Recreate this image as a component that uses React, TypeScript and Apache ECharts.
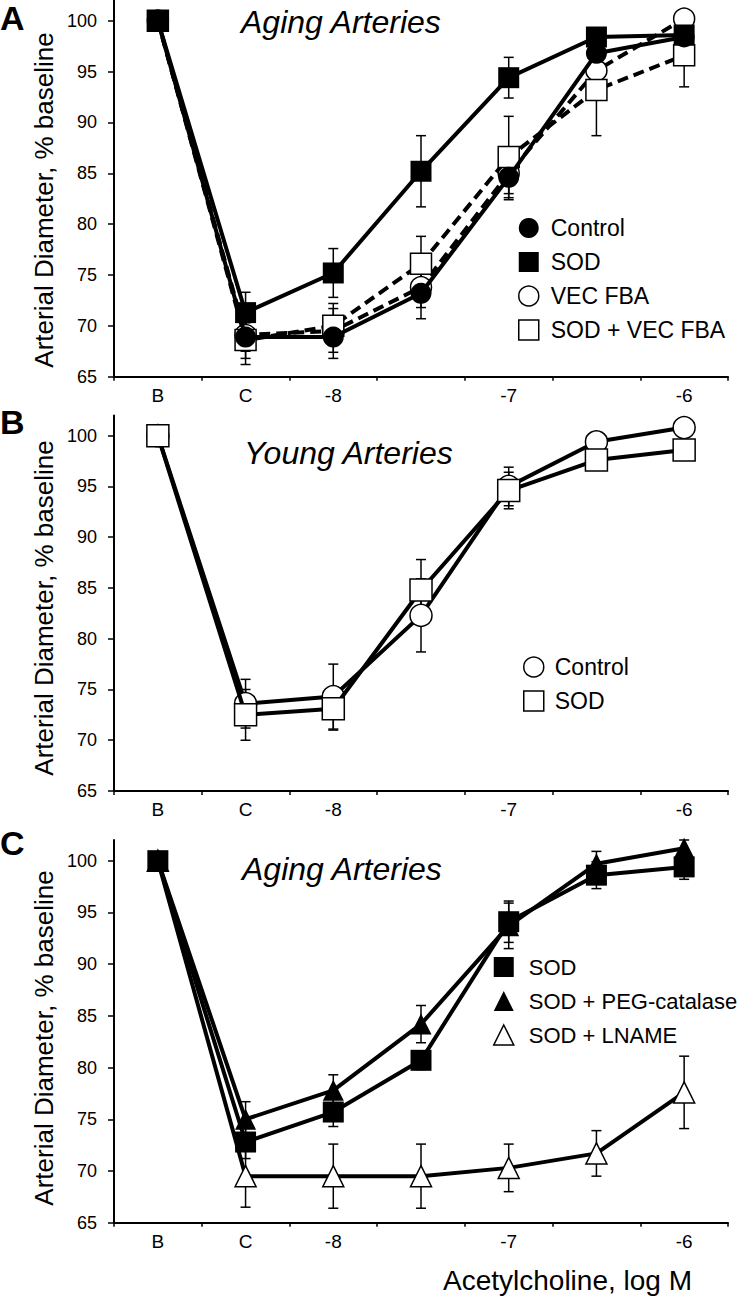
import React, { useEffect, useRef } from 'react';
import * as echarts from 'echarts';

const FONT = 'Liberation Sans, Arial, Helvetica, sans-serif';

// Categories (x axis) and tick labels
const categories = ['B', 'C', '-8', '-7.5', '-7', '-6.5', '-6'];
const shownLabels = ['B', 'C', '-8', '-7', '-6'];
const yTicks = [65, 70, 75, 80, 85, 90, 95, 100];

// Panel A – Aging Arteries
const aControl = [100, 68.9, 68.9, 73.2, 84.6, 96.8, 98.4];
const aControlErr = [0, 1.4, 1.5, 2.5, 2.2, 1.0, 0.8];
const aSod = [100, 71.3, 75.2, 85.2, 94.4, 98.4, 98.6];
const aSodErr = [0, 2.0, 2.4, 3.5, 2.0, 0.8, 0.8];
const aVec = [100, 69.1, 69.5, 73.8, 85.0, 95.1, 100.2];
const aVecErr = [0, 2.9, 2.7, 2.0, 2.0, 1.5, 0.8];
const aSodVec = [100, 68.6, 70.0, 76.1, 86.6, 93.2, 96.6];
const aSodVecErr = [0, 1.8, 1.7, 2.7, 4.0, 4.5, 3.1];

// Panel B – Young Arteries
const bControl = [100, 73.6, 74.3, 82.3, 95.0, 99.4, 100.8];
const bControlErr = [0, 2.4, 3.2, 3.6, 1.9, 0.8, 0.8];
const bSod = [100, 72.5, 73.1, 84.8, 94.6, 97.6, 98.6];
const bSodErr = [0, 2.5, 2.1, 3.0, 1.8, 0.8, 0.8];

// Panel C – Aging Arteries
const cSod = [100, 72.8, 75.7, 80.7, 94.1, 98.6, 99.4];
const cSodErr = [0, 1.6, 1.4, 0.9, 2.0, 1.3, 1.2];
const cPeg = [100, 75.0, 77.8, 84.2, 93.7, 99.7, 101.2];
const cPegErr = [0, 1.7, 1.5, 1.8, 2.2, 1.2, 0.8];
const cLname = [100, 69.5, 69.5, 69.5, 70.3, 71.7, 77.6];
const cLnameErr = [0, 3.0, 3.1, 3.1, 2.3, 2.2, 3.5];

const grids = [
  { left: 114, top: 0.4, width: 614, height: 376.3 },
  { left: 114, top: 415.4, width: 614, height: 375.6 },
  { left: 114, top: 840, width: 614, height: 382.7 },
];

function errRender(params: any, api: any) {
  const x = api.value(0);
  const lo = api.coord([x, api.value(1)]);
  const hi = api.coord([x, api.value(2)]);
  const w = 5;
  const style = { stroke: '#000', lineWidth: 1.5, fill: null };
  return {
    type: 'group',
    children: [
      { type: 'line', shape: { x1: lo[0], y1: lo[1], x2: hi[0], y2: hi[1] }, style },
      { type: 'line', shape: { x1: lo[0] - w, y1: lo[1], x2: lo[0] + w, y2: lo[1] }, style },
      { type: 'line', shape: { x1: hi[0] - w, y1: hi[1], x2: hi[0] + w, y2: hi[1] }, style },
    ],
  };
}

type Spec = {
  name: string;
  panel: number;
  values: number[];
  err: number[];
  symbol: string;
  filled: boolean;
  dashed?: boolean;
  size?: number;
};

const specs: Spec[] = [
  { name: 'A|VEC FBA', panel: 0, values: aVec, err: aVecErr, symbol: 'circle', filled: false, dashed: true },
  { name: 'A|SOD + VEC FBA', panel: 0, values: aSodVec, err: aSodVecErr, symbol: 'rect', filled: false, dashed: true },
  { name: 'A|SOD', panel: 0, values: aSod, err: aSodErr, symbol: 'rect', filled: true },
  { name: 'A|Control', panel: 0, values: aControl, err: aControlErr, symbol: 'circle', filled: true },
  { name: 'B|Control', panel: 1, values: bControl, err: bControlErr, symbol: 'circle', filled: false, size: 22 },
  { name: 'B|SOD', panel: 1, values: bSod, err: bSodErr, symbol: 'rect', filled: false, size: 22 },
  { name: 'C|SOD + LNAME', panel: 2, values: cLname, err: cLnameErr, symbol: 'triangle', filled: false },
  { name: 'C|SOD', panel: 2, values: cSod, err: cSodErr, symbol: 'rect', filled: true },
  { name: 'C|SOD + PEG-catalase', panel: 2, values: cPeg, err: cPegErr, symbol: 'triangle', filled: true },
];

function legendItem(name: string, icon: string, filled: boolean) {
  return {
    name,
    icon,
    itemStyle: filled
      ? { color: '#000', borderWidth: 0 }
      : { color: '#fff', borderColor: '#000', borderWidth: 1.5 },
  };
}

function makeLegend(left: number, top: number, padLeft: number, fontSize: number, data: any[]) {
  return {
    orient: 'vertical',
    left,
    top,
    padding: 0,
    itemWidth: 20,
    itemHeight: 20,
    itemGap: 11,
    selectedMode: false,
    formatter: (n: string) => n.split('|')[1],
    textStyle: { fontSize, color: '#000', fontFamily: FONT, padding: [0, 0, 0, padLeft], lineHeight: 23 },
    data,
  };
}

export default function App() {
  const ref = useRef<HTMLDivElement>(null);

  useEffect(() => {
    if (!ref.current) return;
    const chart = echarts.init(ref.current, undefined, { renderer: 'svg' });

    const xAxes = grids.map((_, i) => ({
      type: 'category',
      gridIndex: i,
      data: categories,
      boundaryGap: true,
      axisLine: { show: true, lineStyle: { color: '#000', width: 2 } },
      axisTick: { show: true, inside: false, length: 4, lineStyle: { color: '#000', width: 1.5 } },
      axisLabel: {
        interval: 0,
        margin: 9,
        fontSize: 19,
        color: '#000',
        fontFamily: FONT,
        formatter: (v: string) => (shownLabels.includes(v) ? v : ''),
      },
      splitLine: { show: false },
    }));

    const yAxes = grids.map((_, i) => ({
      type: 'value',
      gridIndex: i,
      min: 65,
      max: 102,
      interval: 5,
      axisLine: { show: true, lineStyle: { color: '#000', width: 2 } },
      axisTick: { show: true, inside: false, length: 6, customValues: yTicks, lineStyle: { color: '#000', width: 1.5 } },
      axisLabel: {
        margin: 17,
        fontSize: 18,
        color: '#000',
        fontFamily: FONT,
        customValues: yTicks,
      },
      splitLine: { show: false },
    }));

    const series: any[] = [];
    specs.forEach((s) => {
      series.push({
        type: 'custom',
        name: s.name + ' err',
        xAxisIndex: s.panel,
        yAxisIndex: s.panel,
        renderItem: errRender,
        encode: { x: 0, y: [1, 2] },
        data: s.values
          .map((v, i) => [i, v - s.err[i], v + s.err[i]])
          .filter((_, i) => s.err[i] > 0),
        z: 1,
        silent: true,
        clip: false,
      });
    });
    specs.forEach((s, k) => {
      series.push({
        type: 'line',
        name: s.name,
        xAxisIndex: s.panel,
        yAxisIndex: s.panel,
        data: s.values,
        symbol: s.symbol,
        symbolSize: s.size ?? 21,
        showAllSymbol: true,
        clip: false,
        lineStyle: { color: '#000', width: 4, type: s.dashed ? [11, 6] : 'solid' },
        itemStyle: s.filled
          ? { color: '#000', borderWidth: 0 }
          : { color: '#fff', borderColor: '#000', borderWidth: 1.5 },
        z: 2 + k,
        silent: true,
      });
    });

    const titleStyle = { fontSize: 32, fontStyle: 'italic', fontFamily: FONT, fill: '#000', align: 'left', verticalAlign: 'middle', textAlign: 'left', textVerticalAlign: 'middle' };
    const letterStyle = { fontSize: 34, fontWeight: 'bold', fontFamily: FONT, fill: '#000', align: 'left', verticalAlign: 'middle', textAlign: 'left', textVerticalAlign: 'middle' };
    const yNameStyle = { fontSize: 26, fontFamily: FONT, fill: '#000', align: 'center', verticalAlign: 'middle', textAlign: 'center', textVerticalAlign: 'middle', text: 'Arterial Diameter, % baseline' };

    const option: any = {
      animation: false,
      textStyle: { fontFamily: FONT, color: '#000' },
      grid: grids.map((g) => ({ ...g, containLabel: false, outerBoundsMode: 'none' })),
      xAxis: xAxes,
      yAxis: yAxes,
      legend: [
        makeLegend(518, 216.5, 7, 23, [
          legendItem('A|Control', 'circle', true),
          legendItem('A|SOD', 'rect', true),
          legendItem('A|VEC FBA', 'circle', false),
          legendItem('A|SOD + VEC FBA', 'rect', false),
        ]),
        makeLegend(523, 655.5, 6, 23, [
          legendItem('B|Control', 'circle', false),
          legendItem('B|SOD', 'rect', false),
        ]),
        makeLegend(493, 955.5, 10, 22, [
          legendItem('C|SOD', 'rect', true),
          legendItem('C|SOD + PEG-catalase', 'triangle', true),
          legendItem('C|SOD + LNAME', 'triangle', false),
        ]),
      ],
      graphic: [
        { type: 'text', x: 0, y: 18, style: { ...letterStyle, text: 'A' } },
        { type: 'text', x: 0, y: 422, style: { ...letterStyle, text: 'B' } },
        { type: 'text', x: 0, y: 843, style: { ...letterStyle, text: 'C' } },
        { type: 'text', x: 241, y: 22, style: { ...titleStyle, text: 'Aging Arteries' } },
        { type: 'text', x: 244, y: 453, style: { ...titleStyle, text: 'Young Arteries' } },
        { type: 'text', x: 242, y: 869, style: { ...titleStyle, text: 'Aging Arteries' } },
        { type: 'text', x: 44, y: 200, rotation: Math.PI / 2, style: { ...yNameStyle } },
        { type: 'text', x: 44, y: 608, rotation: Math.PI / 2, style: { ...yNameStyle } },
        { type: 'text', x: 44, y: 1038, rotation: Math.PI / 2, style: { ...yNameStyle } },
        {
          type: 'text', x: 443, y: 1280,
          style: { text: 'Acetylcholine, log M', fontSize: 28, fontFamily: FONT, fill: '#000', align: 'left', verticalAlign: 'middle', textAlign: 'left', textVerticalAlign: 'middle' },
        },
      ],
      series,
    };

    chart.setOption(option);
    return () => chart.dispose();
  }, []);

  return (
    <div
      ref={ref}
      style={{ position: 'absolute', left: 0, top: 0, width: 747, height: 1296, background: '#fff' }}
    />
  );
}
